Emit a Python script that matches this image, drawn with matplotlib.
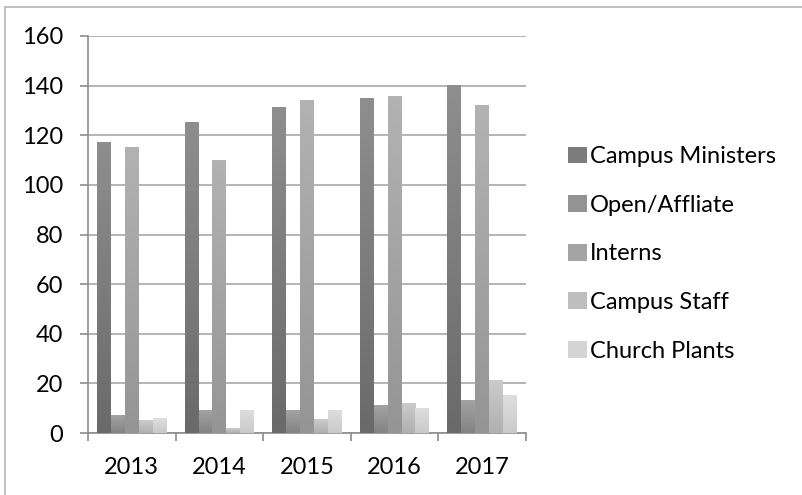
import numpy as np
import matplotlib
matplotlib.use("Agg")
import matplotlib.pyplot as plt
from matplotlib.colors import LinearSegmentedColormap
from matplotlib.patches import Rectangle

years = ["2013", "2014", "2015", "2016", "2017"]
series_names = ["Campus Ministers", "Open/Affliate", "Interns", "Campus Staff", "Church Plants"]
campus_ministers = [117, 125, 131, 135, 140]
open_affliate = [7, 9, 9, 11, 13]
interns = [115, 110, 134, 135.5, 132]
campus_staff = [5, 2, 5.5, 12, 21]
church_plants = [6, 9, 9, 10, 15]
all_series = [campus_ministers, open_affliate, interns, campus_staff, church_plants]

# (bottom, top) gradient colours per series
grad_colors = [("#6a6a6a", "#8e8e8e"),
               ("#838383", "#a3a3a3"),
               ("#959595", "#b2b2b2"),
               ("#b0b0b0", "#cbcbcb"),
               ("#cacaca", "#dedede")]

plt.rcParams['font.family'] = ['Lato', 'DejaVu Sans']

fig = plt.figure(figsize=(8.02, 4.95), dpi=100)
ax = fig.add_axes([88/802, 62/495, (526-88)/802, (433-36)/495])

# light frame round the chart area
fig.patches.append(Rectangle((5/802, -0.01), 1.0, 488/495 + 0.01, transform=fig.transFigure,
                             fill=False, edgecolor="#b5b5b5", linewidth=1.2))

x = np.arange(len(years))
width = 0.159
for i, (vals, (c0, c1)) in enumerate(zip(all_series, grad_colors)):
    bars = ax.bar(x + (i - 2) * width, vals, width, color=c0, label=series_names[i], zorder=2)
    cmap = LinearSegmentedColormap.from_list("g%d" % i, [c0, c1])
    for b in bars:
        grad = np.linspace(0, 1, 64).reshape(-1, 1)
        ax.imshow(grad, extent=[b.get_x(), b.get_x() + b.get_width(), 0, b.get_height()],
                  cmap=cmap, aspect='auto', origin='lower', zorder=3, interpolation='bilinear')

ax.set_xlim(-0.5, 4.5)
ax.set_ylim(0, 160)
ax.set_yticks(range(0, 161, 20))
ax.set_xticks(x)
ax.set_xticklabels(years)
ax.set_xticks(np.arange(-0.5, 5, 1), minor=True)

ax.grid(axis='y', color="#a8a8a8", linewidth=1.2)
ax.set_axisbelow(True)
for s in ["top", "right"]:
    ax.spines[s].set_visible(False)
for s in ["left", "bottom"]:
    ax.spines[s].set_color("#8c8c8c")
    ax.spines[s].set_linewidth(1.2)

ax.tick_params(axis='y', length=6, color="#8c8c8c", width=1.2, pad=12, labelsize=17)
ax.tick_params(axis='x', which='major', length=0, pad=17, labelsize=17)
ax.tick_params(axis='x', which='minor', length=6, color="#8c8c8c", width=1.2)

handles = [Rectangle((0, 0), 1, 1, facecolor=LinearSegmentedColormap.from_list("m", [c0, c1])(0.5), edgecolor='none')
           for c0, c1 in grad_colors]
fig.legend(handles, series_names, loc='center left', bbox_to_anchor=(556/802, 1 - 254/495),
           frameon=False, fontsize=17, handlelength=0.82, handleheight=0.72, handletextpad=0.12,
           labelspacing=1.17, borderpad=0)

fig.savefig("out.png", dpi=100)
